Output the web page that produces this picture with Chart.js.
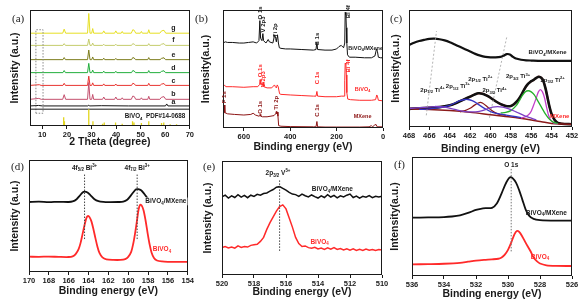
<!DOCTYPE html>
<html><head><meta charset="utf-8">
<script src="https://cdn.jsdelivr.net/npm/chart.js@4.4.0/dist/chart.umd.min.js"></script>
<style>
html,body{margin:0;padding:0;background:#fff;}
#wrap{position:relative;width:580px;height:303px;overflow:hidden;background:#fff;}
canvas{position:absolute;}
</style></head><body><div id="wrap">
<canvas id="pa" width="195" height="160" style="left:0;top:0"></canvas>
<canvas id="pb" width="195" height="160" style="left:195px;top:0"></canvas>
<canvas id="pc" width="192" height="160" style="left:388px;top:0"></canvas>
<canvas id="pd" width="195" height="153" style="left:0;top:150px"></canvas>
<canvas id="pe" width="195" height="153" style="left:195px;top:150px"></canvas>
<canvas id="pf" width="192" height="153" style="left:388px;top:150px"></canvas>
</div>
<script>
// ---- (a) XRD, 2theta vs intensity (offset traces) ----
const xrdTicks=[10,20,30,40,50,60,70];
const xrdG=[[5,80],[18.3,80],[18.9,83.5],[19.5,80],[28.4,80],[28.9,97],[29.4,80],[30.1,80],[30.5,84],[30.9,80],[34.5,80],[35,82],[35.5,80],[39.4,80],[39.9,82],[40.4,80],[42.1,80],[42.5,81.5],[42.9,80],[46.2,80],[46.8,83],[47.4,82.5],[48,80],[49.9,80],[50.3,81.5],[50.7,80],[52.9,80],[53.3,83],[53.7,80],[57.8,80],[58.5,82],[59.5,82.5],[60.2,80],[70,80]];
const xrdF=[[5,69.5],[18.4,69.5],[18.9,71],[19.4,69.5],[28.4,69.5],[28.9,75],[29.4,69.5],[30.1,69.5],[30.5,71.5],[30.9,69.5],[34.6,69.5],[35,70.5],[35.4,69.5],[39.5,69.5],[39.9,70.5],[40.3,69.5],[46.3,69.5],[46.8,71],[47.4,70.5],[47.9,69.5],[52.9,69.5],[53.3,71],[53.7,69.5],[57.9,69.5],[58.5,70.5],[59.5,71],[60.1,69.5],[70,69.5]];
const xrdE=[[5,57.2],[18.4,57.2],[18.9,59],[19.4,57.2],[28.4,57.2],[28.9,65.5],[29.4,57.2],[30.1,57.2],[30.5,59.5],[30.9,57.2],[34.6,57.2],[35,58.5],[35.4,57.2],[39.5,57.2],[39.9,58.3],[40.3,57.2],[46.3,57.2],[46.8,59],[47.4,58.6],[47.9,57.2],[52.9,57.2],[53.3,59],[53.7,57.2],[57.9,57.2],[58.5,58.3],[59.5,58.8],[60.1,57.2],[70,57.2]];
const xrdD=[[5,46],[18.4,46],[18.9,47.8],[19.4,46],[28.4,46],[28.9,54],[29.4,46],[30.1,46],[30.5,48.2],[30.9,46],[34.6,46],[35,47.3],[35.4,46],[39.5,46],[39.9,47.2],[40.3,46],[46.3,46],[46.8,47.8],[47.4,47.4],[47.9,46],[52.9,46],[53.3,47.8],[53.7,46],[57.9,46],[58.5,47.1],[59.5,47.6],[60.1,46],[70,46]];
const xrdC=[[5,35],[8.8,35.6],[9.5,35],[18.4,35],[18.9,36.8],[19.4,35],[28.4,35],[28.9,43],[29.4,35],[30.1,35],[30.5,37.2],[30.9,35],[34.6,35],[35,36.3],[35.4,35],[39.5,35],[39.9,36.2],[40.3,35],[46.3,35],[46.8,36.8],[47.4,36.4],[47.9,35],[52.9,35],[53.3,36.8],[53.7,35],[57.9,35],[58.5,36.1],[59.5,36.6],[60.1,35],[70,35]];
const xrdB=[[5,23],[8.6,23.8],[9.6,23],[18.3,23],[18.9,27],[19.5,23],[28.4,23],[28.9,37.5],[29.4,23],[30.1,23],[30.5,27.2],[30.9,23],[34.5,23],[35,25],[35.5,23],[39.4,23],[39.9,25],[40.4,23],[42.1,23],[42.5,24.3],[42.9,23],[46.2,23],[46.8,25.8],[47.4,25.4],[48,23],[49.9,23],[50.3,24.3],[50.7,23],[52.9,23],[53.3,25.6],[53.7,23],[57.8,23],[58.5,24.8],[59.5,25.3],[60.2,23],[70,23]];
const xrdA=[[5,17.3],[8.5,17.7],[10,17.3],[28.5,17.3],[28.9,17.9],[29.3,17.3],[34,17.5],[45,17.3],[60.1,17.3],[60.6,19],[61.1,17.3],[70,17.3]];
const pdfPos=[18.7,19.0,28.9,30.6,34.5,35.2,39.8,42.5,46.7,47.3,50.3,53.3,58.5,59.4,62.0,64.6];
const pdfHeight=[7.5,4,14.5,4,2,3,3,2,4,3,2.5,4,2.5,3,1.5,1.5];
const pdfDivider=[[5,14.5],[70,14.5]];
const lowAngleBox=[[7.4,11],[7.4,83],[10.3,83],[10.3,11],[7.4,11]];

// ---- (b) XPS survey ----
const surveyTicks=[600,400,200,0];
const surveyHybrid=[[690,72],[680,73],[670,72.5],[650,72.5],[620,72],[600,72],[580,72.5],[560,73],[545,72],[535,74],[531,91],[528,76],[522,74],[518,80],[515,74],[505,72],[495,75],[490,73],[475,72],[467,79],[463,76],[460,73],[457,77],[455,79],[451,72],[447,68],[440,67.5],[420,67],[400,67],[350,66.5],[300,66],[289,66.5],[285,73],[282,66.5],[250,66],[220,66],[200,67],[190,69],[180,70],[170,68],[165,72],[163,98],[160,96],[158,85],[156,72],[153,62],[145,60],[120,60],[80,59.5],[50,59.5],[35,61],[28,67],[24,65],[20,60],[10,59.5],[0,59.5]];
const surveyBiVO4=[[690,35],[684,36.5],[678,35],[650,35],[600,34.5],[560,35],[540,35],[532,37],[530,41],[527,37],[520,36],[517,39],[514,35],[500,34],[480,34],[468,36.5],[464,35],[460,34],[456,36.5],[452,35],[446,29],[440,28.5],[400,28],[350,27.5],[300,27],[289,27],[285,31],[282,27],[250,26.5],[200,26.5],[180,27],[168,27],[165,40],[163,55],[160,54],[158,45],[156,30],[152,24.5],[140,24],[100,23.5],[50,23.5],[32,24],[27,28],[24,27],[20,23.5],[0,23]];
const surveyMXene=[[690,12.5],[686,13],[684,19.5],[682,13],[670,12],[640,11.5],[600,11],[570,11.5],[560,12.5],[550,11],[535,10],[531,10.5],[530,11.5],[527,10],[520,9.5],[500,9.5],[470,10.5],[463,12],[460,14],[458,12],[456,13.5],[453,10],[450,2],[440,1.5],[400,1.2],[300,1],[289,1],[285,5.5],[282,1],[250,0.8],[200,0.8],[100,0.8],[60,1],[50,2],[45,1],[36,2.5],[30,3],[25,1],[0,1]];

// ---- (c) Ti 2p ----
const ti2pTicks=[468,466,464,462,460,458,456,454,452];
const ti2pHybrid=[[468,70],[467.5,72],[467,73.5],[466.5,74.5],[466,75.3],[465.5,75.5],[465,75],[464.5,74],[464,72.5],[463.5,70.5],[463,68.5],[462.5,66.5],[462,64.5],[461.5,62.5],[461,61],[460.5,60],[460,59.5],[459.5,59.5],[459,60],[458.7,61],[458.4,62.3],[458.1,62],[457.8,60],[457.5,58.5],[457,57.5],[456.5,57],[456,56.8],[455,56.5],[454,56.5],[453,56.5],[452,56.5]];
const ti2pEnvelope=[[468,15.5],[467,16],[466,16.5],[465,17],[464,18.5],[463.5,20],[463,22],[462.5,24],[462,26],[461.5,28],[461.2,28.8],[460.8,28.5],[460.4,27],[460,25],[459.5,22],[459,19.5],[458.5,18],[458,18],[457.7,19.5],[457.3,23],[457,27],[456.7,32],[456.4,36],[456.1,38.5],[455.8,40],[455.5,42],[455.25,43],[455,42],[454.8,39],[454.6,33],[454.4,25],[454.2,17],[454,11],[453.7,6],[453.4,3.5],[453,2.8],[452,2.3]];
const ti2pBackground=[[468,15.5],[466,15],[464,14],[462,12.5],[460,10.5],[458,8.5],[456,6],[455,4.5],[454,3],[453,2.5],[452,2.3]];
const ti2pTi3Half=[[467,15],[466,15.5],[465,16.5],[464,18.5],[463.5,20.5],[463,22.5],[462.5,23.5],[462.2,23.5],[461.8,22.5],[461.3,20],[460.8,17],[460.3,14.5],[459.8,12.5],[459,11],[458,9.5],[457,8]];
const ti2pTi2Half=[[463,13],[462.5,14],[462,16],[461.6,18.5],[461.2,20.5],[461,21],[460.8,20.5],[460.4,18],[460,15],[459.6,12.5],[459.2,11],[458.5,10]];
const ti2pTi4=[[468,15.8],[466.5,16.8],[465.5,17.5],[464.5,17],[463.5,15],[462.5,13.2],[461.5,13],[461,13.5],[460.3,15.5],[459.8,17],[459.3,17.5],[458.8,17],[458.2,15.5],[457.5,13],[457,11],[456.5,9],[456,7.5],[455.5,6]];
const ti2pTi3=[[459,12],[458.5,12.5],[458,14],[457.5,18],[457.2,22],[456.9,26.5],[456.6,30],[456.3,31],[456,30],[455.7,27.5],[455.4,23],[455,17],[454.6,11],[454.2,6.5],[453.8,4],[453.4,3]];
const ti2pTi2=[[457,7.5],[456.5,9],[456.1,12],[455.8,18],[455.5,25],[455.3,30],[455.1,32],[454.9,30],[454.7,25],[454.5,17],[454.3,10],[454.1,6],[453.8,3.5],[453.4,2.8]];
const ti2pGuides=[[[466.3,10],[465.3,82]],[[460.1,8],[458.4,77]]];

// ---- (d) Bi 4f ----
const bi4fTicks=[170,168,166,164,162,160,158,156,154];
const bi4fHybrid=[[170,62.5],[169,62.8],[168,62.4],[167,62.7],[166,62.5],[165.6,63],[165.2,65],[164.9,68],[164.6,71],[164.4,71.7],[164.1,71],[163.8,68.5],[163.4,65],[163,63.3],[162.5,62.6],[162,62.4],[161,62.5],[160.5,62.8],[160.1,64.5],[159.8,67.5],[159.5,71],[159.2,73.8],[159,74],[158.7,73],[158.4,70],[158.1,66.5],[157.7,63.5],[157.2,62.3],[156.5,61.8],[156,61.7],[155,61.5],[154,61.5]];
const bi4fBiVO4=[[170,13.7],[169,13.5],[168,13.8],[167,13.5],[166,13.4],[165.6,14],[165.3,16],[165,20.5],[164.8,26],[164.6,34],[164.4,42],[164.2,48.5],[164.05,50],[163.9,49],[163.7,45],[163.5,38],[163.3,30],[163.1,22.5],[162.9,17],[162.6,13],[162.2,11.3],[161.5,10.8],[160.8,10.8],[160.3,11.5],[160,13.5],[159.7,18],[159.5,25],[159.3,35],[159.1,47],[158.95,56],[158.8,60],[158.65,59.5],[158.45,55],[158.25,46],[158.05,35],[157.85,25],[157.65,17.5],[157.4,12.5],[157.1,10.3],[156.6,9.4],[156,9.1],[155,9],[154,9]];
const bi4fMarks=[[[164.4,87],[164.4,29]],[[159.1,87],[159.1,29]]];

// ---- (e) V 2p ----
const v2pTicks=[520,518,516,514,512,510];
const v2pHybrid=[[520,68.5],[519.8,70],[519.6,67.5],[519.4,69.5],[519.2,68],[519,70.5],[518.8,68.3],[518.6,69.8],[518.4,67.8],[518.2,70],[518,69],[517.8,70.8],[517.6,70],[517.4,71.5],[517.2,72],[517,73.5],[516.8,75],[516.6,77],[516.4,77.5],[516.2,76],[516,74.5],[515.8,72.5],[515.6,71],[515.4,70.5],[515.2,69],[515,71],[514.8,69.5],[514.6,68.5],[514.4,70.2],[514.2,68.8],[514,67.5],[513.8,69.5],[513.6,68],[513.4,70.5],[513.2,68.4],[513,69.8],[512.8,67.6],[512.6,69.5],[512.4,68.5],[512.2,70],[512,71],[511.8,68],[511.6,69.2],[511.4,67.5],[511.2,69],[511,68.2],[510.8,69.6],[510.6,67.8],[510.4,69],[510.2,68.5],[510,69]];
const v2pBiVO4=[[520,24],[519.8,25],[519.6,23.8],[519.4,24.6],[519.2,23.5],[519,25.5],[518.8,24.2],[518.6,25],[518.4,24.5],[518.2,26],[518,26.5],[517.8,27],[517.6,29.5],[517.4,33],[517.2,40],[517,46],[516.8,51],[516.6,56],[516.4,60],[516.2,61.5],[516,58],[515.8,50],[515.6,42],[515.4,33],[515.2,27.5],[515,25],[514.8,25.5],[514.6,24],[514.4,23.5],[514.2,24.3],[514,22.8],[513.8,23.6],[513.6,22.5],[513.4,23.8],[513.2,22.6],[513,24],[512.8,22.4],[512.6,23.2],[512.4,22],[512.2,23],[512,21.8],[511.8,22.9],[511.6,21.6],[511.4,22.5],[511.2,21.5],[511,22.8],[510.8,21.7],[510.6,22.4],[510.4,21.5],[510.2,22.3],[510,22]];
const v2pMark=[[516.4,83],[516.4,20]];

// ---- (f) O 1s ----
const o1sTicks=[536,534,532,530,528,526];
const o1sHybrid=[[536,49],[535,49.2],[534,49.5],[533.5,50],[533,51],[532.5,53],[532,55.5],[531.7,56.5],[531.4,57],[531,57.3],[530.7,61],[530.4,69.5],[530.2,76],[530,81],[529.85,83],[529.7,82],[529.5,78.5],[529.3,72],[529.1,64],[528.9,56],[528.7,51],[528.4,48],[528,47],[527,46.5],[526,46.5]];
const o1sBiVO4=[[536,9.8],[535,10],[534,10.3],[533,11],[532.5,12],[532,13],[531.5,13.6],[531,14],[530.6,14.5],[530.4,15.5],[530.2,18],[530,22],[529.8,28],[529.6,35],[529.45,37.8],[529.3,37],[529.1,33],[528.9,28],[528.6,21],[528.4,15.5],[528.2,12.5],[528,10.5],[527.6,9],[527,8.5],[526,8.4]];
const o1sMark=[[529.8,90],[529.8,20]];

const INK='#1a1a1a', RED='#ff2a2a';
const SANS='"Liberation Sans", Arial, sans-serif', SERIF='"Liberation Serif", "Times New Roman", serif';
const pts=a=>a.map(p=>({x:p[0],y:p[1]}));
const line=(a,color,w,extra)=>Object.assign({data:pts(a),borderColor:color,borderWidth:w,pointRadius:0,tension:0,fill:false},extra||{});
const dotted=(a,color)=>line(a,color,1,{borderDash:[1.5,1.5]});

// rich text: _x or _{..} subscript, ^x or ^{..} superscript
function parseRich(s){const out=[];let i=0,buf='';
  while(i<s.length){const c=s[i];
    if(c==='_'||c==='^'){if(buf){out.push({t:buf,k:0});buf='';}let t;
      if(s[i+1]==='{'){const j=s.indexOf('}',i);t=s.slice(i+2,j);i=j+1;}else{t=s[i+1];i+=2;}
      out.push({t,k:c==='_'?1:2});}
    else{buf+=c;i++;}}
  if(buf)out.push({t:buf,k:0});return out;}
function drawRich(ctx,s,x,y,o){
  const fs=o.size||6.5,ss=fs*0.68,parts=parseRich(s);
  const fnt=sz=>`bold ${sz}px ${SANS}`;let w=0;
  parts.forEach(p=>{ctx.font=fnt(p.k?ss:fs);p.w=ctx.measureText(p.t).width;w+=p.w;});
  ctx.save();ctx.translate(x,y);if(o.rot)ctx.rotate(-Math.PI/2);
  let cx=o.align==='left'?0:o.align==='right'?-w:-w/2;
  if(o.bg){ctx.fillStyle='#fff';ctx.fillRect(cx-1,-fs*0.6,w+2,fs*1.2);}
  ctx.fillStyle=o.color||INK;ctx.textBaseline='middle';ctx.textAlign='left';
  parts.forEach(p=>{ctx.font=fnt(p.k?ss:fs);const dy=p.k===1?fs*0.32:p.k===2?-fs*0.38:0;ctx.fillText(p.t,cx,dy);cx+=p.w;});
  ctx.restore();}

const frame={id:'frame',afterDatasetsDraw(c){const a=c.chartArea,x=c.ctx;x.save();x.strokeStyle=INK;x.lineWidth=1;
  x.strokeRect(Math.round(a.left)+.5,Math.round(a.top)+.5,Math.round(a.width)-1,Math.round(a.height)-1);x.restore();}};
function notes(letter,lx,ly,items){return {id:'notes',afterDraw(c){const ctx=c.ctx,sx=c.scales.x,sy=c.scales.y;
  ctx.save();ctx.font=`11px ${SERIF}`;ctx.fillStyle=INK;ctx.textBaseline='middle';ctx.textAlign='left';ctx.fillText(letter,lx,ly);ctx.restore();
  items.forEach(it=>drawRich(ctx,it.t,sx.getPixelForValue(it.x),sy.getPixelForValue(it.y),it));}};}

function panel(id,o){
  const tfont={family:SANS,size:10.5,weight:'bold'};
  return new Chart(document.getElementById(id),{type:'line',data:{datasets:o.sets},
    options:{responsive:false,animation:false,events:[],
      layout:{padding:{top:o.padTop,right:o.padRight,left:0,bottom:0}},
      plugins:{legend:{display:false},tooltip:{enabled:false}},
      scales:{
        x:{type:'linear',min:o.xmin,max:o.xmax,reverse:!!o.reverse,
          afterBuildTicks:s=>{s.ticks=o.ticks.map(v=>({value:v}));},
          afterFit:s=>{s.height=o.xh;},
          grid:{drawOnChartArea:false,drawTicks:true,tickLength:3,color:INK},border:{display:false},
          ticks:{color:INK,font:{family:SANS,size:7.5,weight:'bold'},padding:1,maxRotation:0,autoSkip:false},
          title:{display:true,text:o.xTitle,color:INK,font:tfont,padding:{top:0,bottom:o.xtPad}}},
        y:{min:0,max:100,afterFit:s=>{s.width=o.yw;},grid:{display:false},border:{display:false},ticks:{display:false},
          title:{display:true,text:o.yTitle,color:INK,font:tfont,padding:{top:o.ytPad,bottom:0}}}}},
    plugins:[frame,notes(o.letter,o.lx,o.ly,o.items)]});
}

// (a)
const pdfLine=[];pdfPos.forEach((p,i)=>{pdfLine.push([p,0],[p,pdfHeight[i]],[p,0]);});
panel('pa',{xmin:5,xmax:70,ticks:xrdTicks,padTop:10,padRight:5,yw:30,xh:34,xtPad:12,ytPad:9,
  xTitle:'2 Theta (degree)',yTitle:'Intensity (a.u.)',letter:'(a)',lx:12,ly:19,
  sets:[line([[5,0],[70,0]].concat(pdfLine),'#e2d51c',1.3),line(pdfDivider,INK,1),dotted(lowAngleBox,'#8a8a8a'),
    line(xrdA,'#151515',1),line(xrdB,'#c4506e',1),line(xrdC,'#e8342f',1),line(xrdD,'#22ae3c',1),
    line(xrdE,'#7d7d1c',1),line(xrdF,'#c4cc6c',1),line(xrdG,'#e6df24',1)],
  items:[{t:'g',x:63.3,y:84.5,size:7},{t:'f',x:63.3,y:74,size:7},{t:'e',x:63.3,y:61.5,size:7},{t:'d',x:63.3,y:50,size:7},
    {t:'c',x:63.3,y:39,size:7},{t:'b',x:63.3,y:27.5,size:7},{t:'a',x:63.3,y:20.5,size:7},
    {t:'BiVO_4  PDF#14-0688',x:43.5,y:8,size:6.3,align:'left'}]});

// (b)
panel('pb',{xmin:0,xmax:690,reverse:true,ticks:surveyTicks,padTop:10,padRight:7,yw:28,xh:32,xtPad:6.5,ytPad:5,
  xTitle:'Binding energy (eV)',yTitle:'Intensity(a.u.)',letter:'(b)',lx:0,ly:19,
  sets:[line(surveyMXene,'#8c1414',1),line(surveyBiVO4,RED,1),line(surveyHybrid,'#111',1)],
  items:[{t:'O 1s',x:530,y:92,rot:1,align:'left',size:6},{t:'V 2p3',x:515,y:81,rot:1,align:'left',size:6},
    {t:'Ti 2p',x:463,y:77,rot:1,align:'left',size:6},{t:'C 1s',x:285,y:70,rot:1,align:'left',size:6},
    {t:'Bi 4f',x:150,y:93,rot:1,align:'left',size:6},
    {t:'O 1s',x:530,y:43,rot:1,align:'left',size:6,color:RED},{t:'V 2p3',x:515,y:34.5,rot:1,align:'left',size:6,color:RED},
    {t:'C 1s',x:285,y:37,rot:1,align:'left',size:6,color:RED},{t:'Bi 4f',x:150,y:47,rot:1,align:'left',size:6,color:RED},
    {t:'F 1s',x:684,y:21,rot:1,align:'left',size:6,color:'#8c1414'},{t:'O 1s',x:530,y:12,rot:1,align:'left',size:6,color:'#8c1414'},
    {t:'Ti 2p',x:460,y:15.5,rot:1,align:'left',size:6,color:'#8c1414'},{t:'C 1s',x:285,y:9.5,rot:1,align:'left',size:6,color:'#8c1414'},
    {t:'BiVO_4/MXene',x:75,y:67.5,size:5.5},{t:'BiVO_4',x:88,y:33,size:5.5,color:RED},{t:'MXene',x:88,y:9.5,size:5.5,color:'#8c1414'}]});

// (c)
panel('pc',{xmin:452,xmax:468,reverse:true,ticks:ti2pTicks,padTop:10,padRight:8,yw:21,xh:33,xtPad:4.5,ytPad:2,
  xTitle:'Binding energy (eV)',yTitle:'Intensity(a.u.)',letter:'(c)',lx:2,ly:19,
  sets:[line(ti2pGuides[0],'#a0a0a0',0.8,{borderDash:[2,2]}),line(ti2pGuides[1],'#a0a0a0',0.8,{borderDash:[2,2]}),
    line(ti2pTi4,'#7b3fc4',1.3,{tension:0.3}),line(ti2pTi3Half,'#3535c4',1.3,{tension:0.3}),
    line(ti2pTi2Half,'#8b1a1a',1.3,{tension:0.3}),line(ti2pTi3,'#25b02a',1.3,{tension:0.3}),
    line(ti2pTi2,'#c23fc9',1.3,{tension:0.3}),line(ti2pBackground,'#8b1a1a',1.5,{tension:0.3}),
    line(ti2pEnvelope,'#111',2.6,{tension:0.3}),line(ti2pEnvelope,RED,1.8,{tension:0.3}),
    line(ti2pHybrid,'#111',2.2,{tension:0.3})],
  items:[{t:'2p_{1/2} Ti^{4+}',x:465.7,y:31.5,size:6},{t:'2p_{1/2} Ti^{3+}',x:463.2,y:34.5,size:6},
    {t:'2p_{1/2} Ti^{2+}',x:461,y:41,size:6},{t:'2p_{3/2} Ti^{4+}',x:459.6,y:31,size:6},
    {t:'2p_{3/2} Ti^{3+}',x:457.3,y:43,size:6},{t:'2p_{3/2} Ti^{2+}',x:453.9,y:40,size:6},
    {t:'BiVO_4/MXene',x:454.4,y:63.5,size:6},{t:'MXene',x:453.2,y:9.5,size:6,color:RED}]});

// (d)
panel('pd',{xmin:154,xmax:170,reverse:true,ticks:bi4fTicks,padTop:10,padRight:4,yw:29,xh:31,xtPad:5.5,ytPad:8.5,
  xTitle:'Binding energy (eV)',yTitle:'Intensity (a.u.)',letter:'(d)',lx:11,ly:17,
  sets:[dotted(bi4fMarks[0],'#444'),dotted(bi4fMarks[1],'#444'),
    line(bi4fBiVO4,RED,1.8,{tension:0.3}),line(bi4fHybrid,'#111',1.8,{tension:0.3})],
  items:[{t:'4f_{5/2} Bi^{3+}',x:164.4,y:93,size:6.5},{t:'4f_{7/2} Bi^{3+}',x:159.1,y:93,size:6.5},
    {t:'BiVO_4/MXene',x:156.2,y:63,size:6.5,bg:true},{t:'BiVO_4',x:156.6,y:20,size:6.5,color:RED}]});

// (e)
panel('pe',{xmin:510,xmax:520,reverse:true,ticks:v2pTicks,padTop:11,padRight:8,yw:27,xh:28,xtPad:4.5,ytPad:7,
  xTitle:'Binding energy (eV)',yTitle:'Intensity (a.u.)',letter:'(e)',lx:8,ly:17,
  sets:[dotted(v2pMark,'#444'),line(v2pBiVO4,RED,1.5),line(v2pHybrid,'#111',1.5)],
  items:[{t:'2p_{3/2} V^{5+}',x:516.5,y:89,size:6.5},{t:'BiVO_4/MXene',x:513.1,y:75,size:6.5},
    {t:'BiVO_4',x:513.9,y:29,size:6.5,color:RED}]});

// (f)
panel('pf',{xmin:526,xmax:536,reverse:true,ticks:o1sTicks,padTop:7,padRight:8,yw:24,xh:27,xtPad:2.5,ytPad:0.5,
  xTitle:'Binding energy (eV)',yTitle:'Intensity(a.u.)',letter:'(f)',lx:6,ly:15,
  sets:[dotted(o1sMark,'#777'),line(o1sBiVO4,RED,1.8,{tension:0.3}),line(o1sHybrid,'#111',1.8,{tension:0.3})],
  items:[{t:'O 1s',x:529.8,y:93,size:6.5},{t:'BiVO_4/MXene',x:527.6,y:53,size:6.5},
    {t:'BiVO_4',x:528,y:16,size:6.5,color:RED}]});
</script></body></html>
